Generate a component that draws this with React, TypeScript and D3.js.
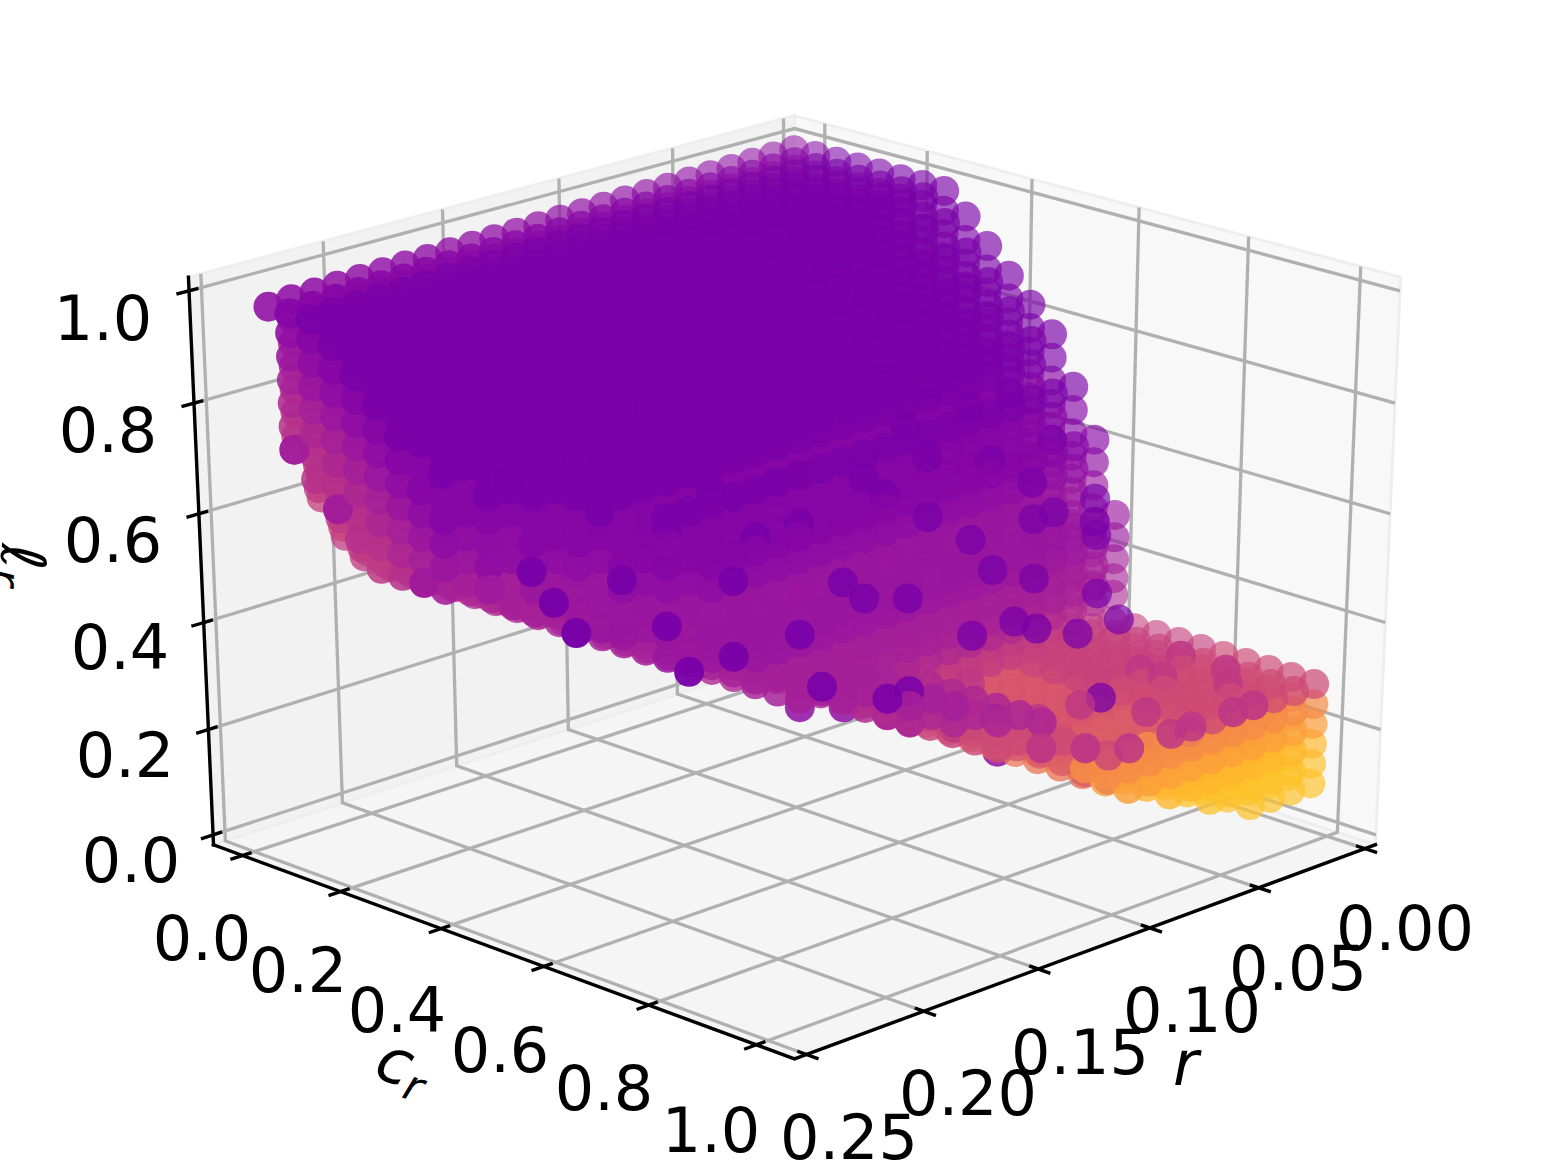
import React, { useEffect, useRef } from 'react';
import * as d3 from 'd3';

const WIDTH = 1548;
const HEIGHT = 1168;

// axis limits
const rLim = [-0.005, 0.255];
const crLim = [-0.06, 1.07];
const zLim = [-0.019, 1.024];

const rTicks = [0, 0.05, 0.1, 0.15, 0.2, 0.25];
const crTicks = [0, 0.2, 0.4, 0.6, 0.8, 1];
const zTicks = [0, 0.2, 0.4, 0.6, 0.8, 1];

const rTickLabels = ['0.00', '0.05', '0.10', '0.15', '0.20', '0.25'];
const crTickLabels = ['0.0', '0.2', '0.4', '0.6', '0.8', '1.0'];
const zTickLabels = ['0.0', '0.2', '0.4', '0.6', '0.8', '1.0'];

// sampled grid of the scatter
const rGrid = [0.009, 0.0184, 0.0279, 0.0373, 0.0467, 0.0562, 0.0656, 0.075, 0.0845, 0.0939, 0.1033, 0.1128, 0.1222, 0.1316, 0.1411, 0.1505, 0.1599, 0.1694, 0.1788, 0.1882, 0.1977, 0.2071, 0.2165, 0.226, 0.2354];
const crGrid = [0, 0.0417, 0.0833, 0.125, 0.1667, 0.2083, 0.25, 0.2917, 0.3333, 0.375, 0.4167, 0.4583, 0.5, 0.5417, 0.5833, 0.625, 0.6667, 0.7083, 0.75, 0.7917, 0.8333, 0.875, 0.9167, 0.9583, 1];
const zGrid = [0, 0.05, 0.095, 0.1325, 0.17, 0.2075, 0.245, 0.2825, 0.325, 0.355, 0.39, 0.43, 0.471, 0.513, 0.555, 0.596, 0.638, 0.68, 0.721, 0.763, 0.805, 0.846, 0.888, 0.93, 0.965];

// the upper layers lean up towards small r
const leanByR = [0.025, 0.024, 0.023, 0.022, 0.021, 0.02, 0.019, 0.018, 0.017, 0.016, 0.015, 0.014, 0.013, 0.012, 0.011, 0.01, 0.009, 0.008, 0.007, 0.006, 0.005, 0.004, 0.003, 0.002, 0];

// outline of the point cloud, in grid indices
const rMaxByCr = [24, 24, 24, 24, 24, 24, 24, 24, 24, 23, 22, 21, 20, 19, 18, 17, 16, 15, 14, 14, 13, 12, 11, 10, 10];
const zTopByCr = [24, 24, 24, 24, 24, 24, 24, 24, 23, 22, 21, 20, 19, 17, 15, 12];
const zTopShelfByR = [7, 7, 7, 7, 7, 7, 6, 6, 6, 6, 7, 8, 8, 9, 9, 10, 10, 11, 11, 12, 13, 14, 14, 15, 15];
const zBottomByR = [2, 2, 2, 2, 3, 3, 4, 4, 5, 5, 6, 7, 7, 8, 8, 9, 9, 10, 11, 11, 12, 13, 13, 14, 14];
const cornerBottom: Record<number, number[]> = {
  24: [24, 18, 17, 16, 15, 14],
  23: [18, 16, 15, 14],
  22: [15, 14],
};

// colour value per height (top row is the highest layer) and c_r column, base 36 steps
const valueRows = [
  '2100000000000000000000000',
  '3210000000000000000000000',
  '4321000000000000000000000',
  '5432100000000000000000000',
  '6543210000000000000000000',
  '6654321100000000000000000',
  '7665432110000000000000000',
  '7766543211111000000000000',
  '8776654322111111000000000',
  '8877665432221111111110000',
  '8887776544332222222222222',
  '7777766554433333222222222',
  '6666666554433333333333333',
  '5555555544444333333333333',
  '5555555544444444444444444',
  '5555555555555544444444444',
  '6666666666666665555555555',
  '7777777777777777888899999',
  'aaaaaaaaaaaaaaaaaaaaabbgg',
  'eeeeeeeeeeeeeeeeeeeeeeeii',
  'iiiiiiiiiiiiiiiiiiiiiiikk',
  'jjjjjjjjjjjjjjjjjjjjjjjll',
  'lllllllllllllllllllllllll',
];

// darker single points that sit on the surface: [r, c_r, z] grid indices
const darkSpots = [
  [23, 10, 19], [24, 13, 15], [24, 14, 14], [20, 14, 13], [21, 13, 15], [21, 16, 12], [19, 16, 12], [17, 14, 14], [15, 13, 15], [16, 16, 12],
  [16, 17, 10], [13, 15, 13], [12, 15, 12], [14, 18, 9], [13, 18, 9], [11, 16, 12], [9, 17, 10], [7, 17, 10], [7, 18, 10], [5, 16, 11],
  [5, 18, 9], [3, 17, 10], [3, 18, 9], [3, 14, 14], [3, 15, 13], [1, 15, 13], [4, 15, 13], [7, 15, 13], [7, 16, 12], [8, 14, 14],
  [9, 13, 15], [10, 13, 16], [13, 13, 15], [16, 12, 17], [17, 10, 18], [17, 9, 20], [20, 10, 19], [24, 12, 16], [20, 11, 17], [18, 12, 16],
  [13, 11, 18], [10, 11, 18], [7, 12, 17], [4, 12, 17], [2, 12, 17], [1, 13, 15], [4, 13, 15], [7, 13, 16], [2, 16, 12], [1, 15, 12],
  [6, 20, 7], [10, 19, 7],
];
const shelfSpots = [
  [3, 19, 7], [7, 24, 7], [9, 24, 7], [2, 22, 7], [4, 24, 7], [3, 24, 7], [6, 24, 7], [5, 23, 6], [6, 22, 7], [9, 20, 7],
  [11, 22, 7], [11, 18, 7], [8, 16, 7], [7, 20, 7], [3, 20, 7], [1, 19, 7], [1, 21, 7], [10, 23, 7],
];
const edgeSpots = [[24, 1, 18], [24, 3, 16], [24, 7, 14], [23, 9, 14]];
// purple row that peeks out under the shelf: [r index, c_r index, z]
const underside = [
  [16, 16, 0.343], [15, 17, 0.343], [14, 18, 0.33], [14, 19, 0.33], [13, 20, 0.32], [12, 21, 0.2755], [11, 22, 0.2755], [10, 23, 0.238], [10, 24, 0.238],
];

const elev = (25 * Math.PI) / 180;
const azim = (45 * Math.PI) / 180;
const dist = 10;

const xNorm = d3.scaleLinear().domain(rLim).range([-0.5, 0.5]);
const yNorm = d3.scaleLinear().domain(crLim).range([-0.5, 0.5]);
const zNorm = d3.scaleLinear().domain(zLim).range([-0.5, 0.5]);
const xPixel = d3.scaleLinear().domain([-1, 1]).range([794.5 - 839, 794.5 + 839]);
const yPixel = d3.scaleLinear().domain([-1, 1]).range([567 + 626, 567 - 626]);

const view = (a: number, b: number, h: number) => {
  const right = -Math.sin(azim) * a + Math.cos(azim) * b;
  const up = -Math.sin(elev) * Math.cos(azim) * a - Math.sin(elev) * Math.sin(azim) * b + Math.cos(elev) * h;
  const depth = Math.cos(elev) * Math.cos(azim) * a + Math.cos(elev) * Math.sin(azim) * b + Math.sin(elev) * h;
  const w = (dist - depth) / dist;
  return { x: xPixel(right / w), y: yPixel(up / w), depth };
};

const pathOf = (pts: number[][]) => {
  const line = d3.line();
  return line(pts.map(([a, b, h]) => {
    const p = view(a, b, h);
    return [p.x, p.y] as [number, number];
  }));
};

export default function App() {
  const svgRef = useRef<SVGSVGElement>(null);

  useEffect(() => {
    if (!svgRef.current) return;
    const svg = d3.select(svgRef.current);
    svg.selectAll('*').remove();

    // Panes
    const panes = [
      { fill: '#f2f2f2', pts: [[0.5, -0.5, -0.5], [0.5, -0.5, 0.5], [-0.5, -0.5, 0.5], [-0.5, -0.5, -0.5]] },
      { fill: '#f8f8f8', pts: [[-0.5, 0.5, -0.5], [-0.5, 0.5, 0.5], [-0.5, -0.5, 0.5], [-0.5, -0.5, -0.5]] },
      { fill: '#f5f5f5', pts: [[0.5, -0.5, -0.5], [0.5, 0.5, -0.5], [-0.5, 0.5, -0.5], [-0.5, -0.5, -0.5]] },
    ];
    panes.forEach((pane) => {
      svg.append('path')
        .attr('d', pathOf(pane.pts) + 'Z')
        .attr('fill', pane.fill)
        .attr('stroke', '#eeeeee')
        .attr('stroke-width', 3);
    });

    // Grid lines
    const grid = (pts: number[][]) => {
      svg.append('path')
        .attr('d', pathOf(pts))
        .attr('fill', 'none')
        .attr('stroke', '#b0b0b0')
        .attr('stroke-width', 3.3);
    };
    rTicks.forEach((t) => {
      const a = xNorm(t);
      grid([[a, 0.5, -0.5], [a, -0.5, -0.5], [a, -0.5, 0.5]]);
    });
    crTicks.forEach((t) => {
      const b = yNorm(t);
      grid([[0.5, b, -0.5], [-0.5, b, -0.5], [-0.5, b, 0.5]]);
    });
    zTicks.forEach((t) => {
      const h = zNorm(t);
      grid([[0.5, -0.5, h], [-0.5, -0.5, h], [-0.5, 0.5, h]]);
    });

    // Axis lines and ticks
    const ink = (pts: number[][]) => {
      svg.append('path')
        .attr('d', pathOf(pts))
        .attr('fill', 'none')
        .attr('stroke', '#000')
        .attr('stroke-width', 3.4)
        .attr('stroke-linecap', 'square');
    };
    ink([[0.5, -0.5, -0.5], [0.5, 0.5, -0.5], [-0.5, 0.5, -0.5]]);
    ink([[0.5, -0.5, -0.5], [0.5, -0.5, 0.5]]);
    rTicks.forEach((t) => ink([[xNorm(t), 0.488, -0.5], [xNorm(t), 0.517, -0.5]]));
    crTicks.forEach((t) => ink([[0.488, yNorm(t), -0.5], [0.517, yNorm(t), -0.5]]));
    zTicks.forEach((t) => ink([[0.517, -0.5, zNorm(t)], [0.488, -0.5, zNorm(t)]]));

    // Tick labels
    const label = (x: number, y: number, text: string) => {
      svg.append('text')
        .attr('x', x)
        .attr('y', y)
        .attr('text-anchor', 'middle')
        .attr('font-family', '"DejaVu Sans"')
        .attr('font-size', 62)
        .attr('dy', '0.36em')
        .text(text);
    };
    const zLabelPos = [[131, 860], [125, 755], [120, 647], [113, 540], [108, 430], [103, 318]];
    const crLabelPos = [[202, 938], [298, 970], [397, 1010], [500, 1050], [604, 1088], [711, 1130]];
    const rLabelPos = [[1405, 928], [1298, 968], [1192, 1010], [1080, 1052], [968, 1093], [849, 1137]];
    zTickLabels.forEach((t, i) => label(zLabelPos[i][0], zLabelPos[i][1], t));
    crTickLabels.forEach((t, i) => label(crLabelPos[i][0], crLabelPos[i][1], t));
    rTickLabels.forEach((t, i) => label(rLabelPos[i][0], rLabelPos[i][1], t));

    // Axis titles
    const title = (x: number, y: number, rotate: number, main: string, sub: string) => {
      const text = svg.append('text')
        .attr('transform', `translate(${x},${y}) rotate(${rotate})`)
        .attr('font-family', '"DejaVu Sans"')
        .attr('font-style', 'italic')
        .attr('font-size', 62);
      text.append('tspan').text(main);
      if (sub) text.append('tspan').attr('font-size', 43).attr('dy', 10).text(sub);
    };
    title(1173, 1085, 0, 'r', '');
    title(372, 1076, 20, 'c', 'r');
    title(2, 543, 93, 'ℓ', 'r');

    // Scatter
    type Point = { x: number; y: number; depth: number; sortKey: number; value: number };
    const points: Point[] = [];
    const addAt = (r: number, cr: number, z: number, value: number, bias: number) => {
      const p = view(xNorm(r), yNorm(cr), zNorm(z));
      points.push({ x: p.x, y: p.y, depth: p.depth, sortKey: p.depth + bias, value });
    };
    const zOf = (i: number, k: number) => (k >= 8 ? zGrid[k] + (leanByR[i] * k) / 24 : zGrid[k]);
    crGrid.forEach((_, j) => {
      for (let i = 0; i <= rMaxByCr[j]; i++) {
        const corner = cornerBottom[i] && cornerBottom[i][j];
        const bottom = Math.max(zBottomByR[i], corner ?? 0);
        const top = j < zTopByCr.length ? zTopByCr[j] : zTopShelfByR[i];
        for (let k = bottom; k <= top; k++) {
          const step = parseInt(valueRows[24 - k][j], 36);
          addAt(rGrid[i], crGrid[j], zOf(i, k), 0.24 + 0.03 * step, 0);
        }
      }
    });
    darkSpots.forEach(([i, j, k]) => addAt(rGrid[i], crGrid[j], zOf(i, k), 0.235, 0.04));
    shelfSpots.forEach(([i, j, k]) => addAt(rGrid[i], crGrid[j], zOf(i, k), 0.44, 0.04));
    edgeSpots.forEach(([i, j, k]) => addAt(rGrid[i], crGrid[j], zOf(i, k), 0.34, 0.04));
    underside.forEach(([i, j, z]) => addAt(rGrid[i], crGrid[j], z, 0.3, -0.2));

    const [dMin, dMax] = d3.extent(points, (d) => d.depth) as [number, number];
    const alpha = d3.scaleLinear().domain([dMin, dMax]).range([0.3, 1]);
    points.sort((p, q) => d3.ascending(p.sortKey, q.sortKey));

    svg.append('g')
      .selectAll('circle')
      .data(points)
      .enter()
      .append('circle')
      .attr('cx', (d) => d.x)
      .attr('cy', (d) => d.y)
      .attr('r', 15)
      .attr('fill', (d) => d3.interpolatePlasma(d.value))
      .attr('fill-opacity', (d) => alpha(d.depth));
  }, []);

  return (
    <svg
      ref={svgRef}
      width={WIDTH}
      height={HEIGHT}
      style={{ position: 'absolute', left: 0, top: 0, background: '#fff' }}
    />
  );
}
